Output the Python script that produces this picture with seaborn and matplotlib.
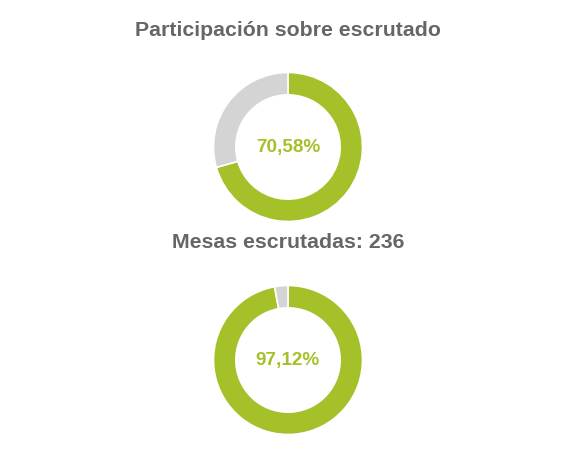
import matplotlib
matplotlib.use("Agg")
import matplotlib.pyplot as plt
import seaborn as sns

sns.set_theme(style="white")
plt.rcParams['font.family'] = ['Liberation Sans', 'DejaVu Sans']

titles = ["Participación sobre escrutado", "Mesas escrutadas: 236"]
percents = [70.58, 97.12]
labels = ["70,58%", "97,12%"]

green = "#a4c12a"
grey = "#d4d4d4"
title_color = "#666666"

W, H = 576, 464
fig = plt.figure(figsize=(W / 100, H / 100), dpi=100)
fig.patch.set_facecolor("white")

centers = [(288, 148), (288, 361)]
title_y = [30, 243]
R = 76

for title, pct, lab, (cx, cy), ty in zip(titles, percents, labels, centers, title_y):
    ax = fig.add_axes([(cx - R) / W, (H - cy - R) / H, 2 * R / W, 2 * R / H])
    ax.pie([pct, 100 - pct], colors=[green, grey], startangle=90, counterclock=False,
           radius=1, wedgeprops=dict(width=0.30, edgecolor="white", linewidth=1.2))
    ax.set_xlim(-1.02, 1.02)
    ax.set_ylim(-1.02, 1.02)
    ax.set_aspect("equal")
    ax.axis("off")
    ax.text(0, 0, lab, ha="center", va="center", color=green, fontsize=13.6, fontweight="bold")
    fig.text(0.5, 1 - ty / H, title, ha="center", va="center", color=title_color,
             fontsize=15.3, fontweight="bold")

fig.savefig("out.png", dpi=100, facecolor="white")
